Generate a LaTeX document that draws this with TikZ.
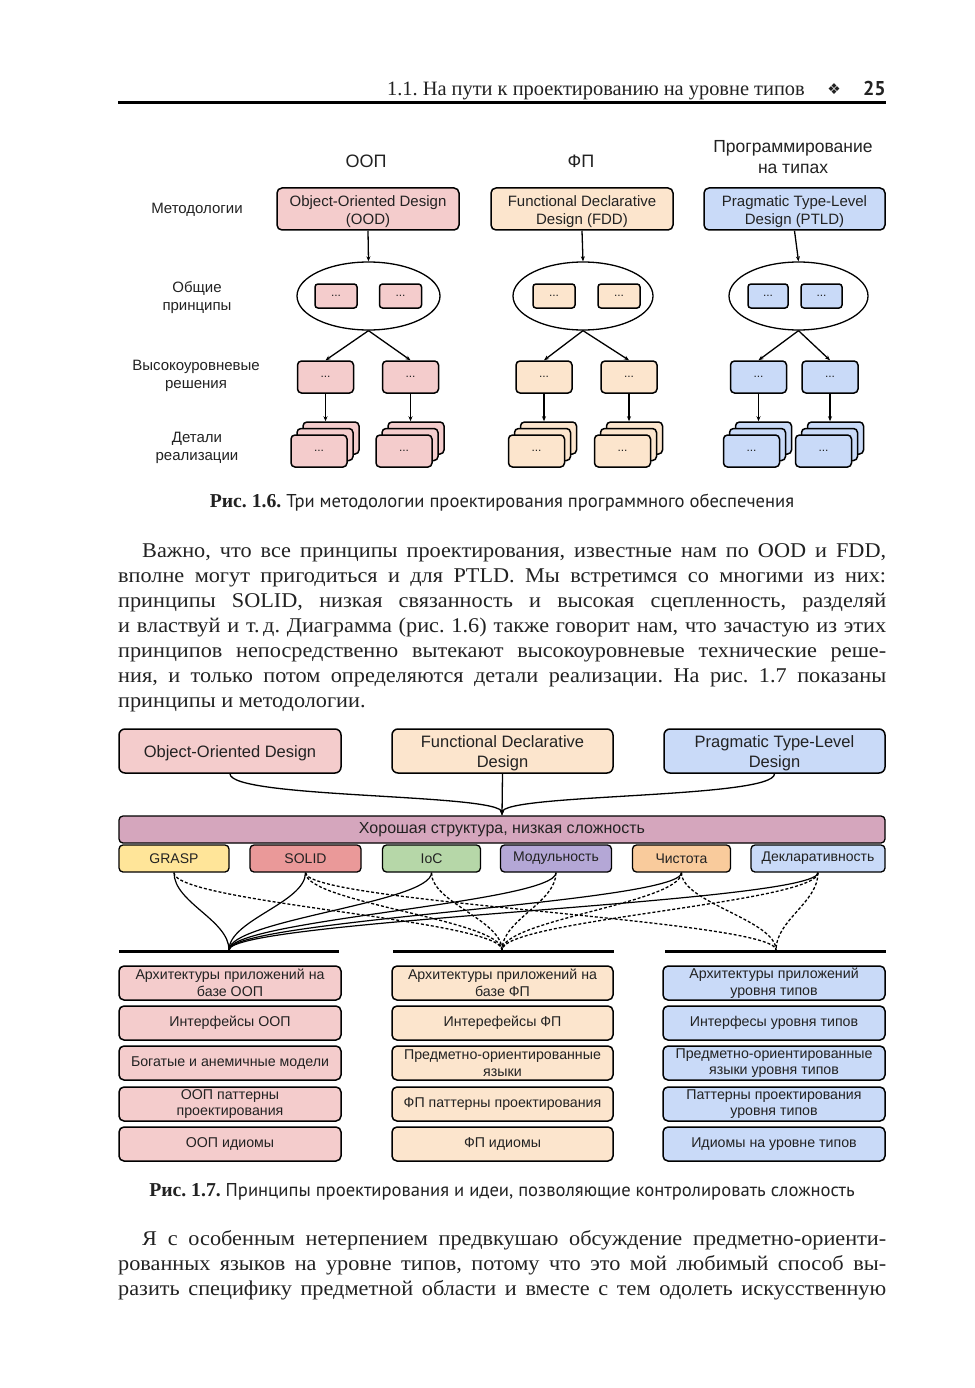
\documentclass[tikz,border=0pt]{standalone}
\usepackage{fontspec}
\setmainfont{Liberation Serif}[FakeStretch=1.06]
\newfontfamily\capserif{Liberation Serif}
\newfontfamily\dsans{Liberation Sans}
\newfontfamily\capsans{PT Sans}
\newfontfamily\symf{DejaVu Sans}
\usetikzlibrary{arrows.meta,shapes.geometric}
\definecolor{cpink}{HTML}{F4CCCC}
\definecolor{cpeach}{HTML}{FCE5CD}
\definecolor{cblue}{HTML}{C9DAF8}
\definecolor{cmauve}{HTML}{D5A6BD}
\definecolor{cyel}{HTML}{FFE599}
\definecolor{cred}{HTML}{EA9999}
\definecolor{cgreen}{HTML}{B6D7A8}
\definecolor{cpurp}{HTML}{B4A7D6}
\definecolor{corange}{HTML}{F9CB9C}
\definecolor{txt}{HTML}{222222}
\frenchspacing
\newcommand{\fsz}[2]{\fontsize{#1}{#2}\selectfont}
\newcommand{\jl}[2]{\makebox[#1][s]{#2}}
\newcommand{\dstack}[4]{%
  \node[sm, fill=#4] (#1c) at (#2+12,#3-13) {};
  \node[sm, fill=#4] (#1b) at (#2+6,#3-6.5) {};
  \node[sm, fill=#4] (#1) at (#2,#3) {...};
}
\begin{document}
\begin{tikzpicture}[x=1pt,y=-1pt,
  b6/.style={draw, line width=1.5pt, rounded corners=5pt, inner sep=1pt, align=center, text=txt, font=\dsans\fsz{15}{18}},
  sm/.style={draw, line width=1.5pt, rounded corners=4pt, minimum width=56pt, minimum height=32pt, inner sep=0pt, text=txt, font=\dsans\fsz{12}{12}},
  ins/.style={draw, line width=1.5pt, rounded corners=3pt, minimum width=42pt, minimum height=24pt, inner sep=0pt, text=txt, font=\dsans\fsz{12}{12}},
  el/.style={draw, ellipse, line width=1.3pt, inner sep=0pt, minimum height=68pt},
  ar/.style={line width=1.3pt, -{Stealth[length=5pt,width=4pt]}},
  lab/.style={font=\dsans\fsz{15}{18}, align=center, text=txt},
  ttl/.style={font=\dsans\fsz{18}{21}, align=center, text=txt},
  b7/.style={draw, line width=1.5pt, rounded corners=6pt, inner sep=1pt, align=center, text=txt, minimum height=44pt, font=\dsans\fsz{16.5}{20}},
  pr/.style={draw, line width=1.3pt, rounded corners=4pt, inner sep=0pt, minimum height=27pt, text=txt, font=\dsans\fsz{14}{16}},
  bb/.style={draw, line width=1.5pt, rounded corners=5pt, inner sep=0pt, align=center, minimum height=34pt, text=txt, font=\dsans\fsz{14.2}{16.5}},
  pl/.style={line width=1.2pt},
  pd/.style={line width=1.3pt, dash pattern=on 3pt off 2pt},
  body/.style={inner sep=0pt, anchor=base west, font=\fsz{21}{25}, text=txt},
  capt/.style={inner sep=0pt, anchor=base, text=txt}
]
\useasboundingbox[fill=white] (0,0) rectangle (974,1388);

% ---------- header ----------
\node[inner sep=0pt, anchor=base east, font=\capserif\fsz{20.4}{22}, text=txt] (hdr) at (805,96) {1.1. На пути к проектированию на уровне типов};
\node[inner sep=0pt, font=\symf\fsz{15}{15}, text=txt] (hsym) at (834,89) {❖};
\node[inner sep=0pt, anchor=base east, font=\capsans\bfseries\fsz{20}{22}, text=txt] (hpg) at (886,96) {25};
\draw[line width=3pt] (118,103) coordinate (r1) -- (886,103) coordinate (r2);

% ---------- figure 1.6 ----------
\node[ttl] (cO) at (366,161) {ООП};
\node[ttl] (cF) at (581,161) {ФП};
\node[ttl, font=\dsans\fsz{17.5}{21}] (cT) at (793,157.5) {Программирование\\на типах};

\node[lab] (l1) at (197,210) {Методологии};
\node[lab] (l2) at (197,298) {Общие\\принципы};
\node[lab] (l3) at (196,376) {Высокоуровневые\\решения};
\node[lab] (l4) at (197,447.5) {Детали\\реализации};

\node[b6, fill=cpink, minimum width=182pt, minimum height=42pt] (ood) at (368,209) {\rule{0pt}{17pt}Object-Oriented Design\\(OOD)};
\node[b6, fill=cpeach, minimum width=182pt, minimum height=42pt] (fdd) at (582,209) {\rule{0pt}{17pt}Functional Declarative\\Design (FDD)};
\node[b6, fill=cblue, minimum width=181pt, minimum height=42pt] (ptld) at (794.5,209) {\rule{0pt}{17pt}Pragmatic Type-Level\\Design (PTLD)};

\node[el, minimum width=143pt] (e1) at (368.5,296) {};
\node[el, minimum width=140pt] (e2) at (583,296) {};
\node[el, minimum width=139pt] (e3) at (798.5,296) {};

\node[ins, fill=cpink] (i11) at (336,296) {...};
\node[ins, fill=cpink] (i12) at (400.5,296) {...};
\node[ins, fill=cpeach] (i21) at (554,296) {...};
\node[ins, fill=cpeach] (i22) at (619,296) {...};
\node[ins, fill=cblue, minimum width=40pt] (i31) at (768,296) {...};
\node[ins, fill=cblue, minimum width=41pt] (i32) at (821.5,296) {...};

\draw[ar] (ood.south) -- (e1.north);
\draw[ar] (fdd.south) -- (e2.north);
\draw[ar] (ptld.south) -- (e3.north);

\node[sm, fill=cpink] (h11) at (325.5,377) {...};
\node[sm, fill=cpink] (h12) at (410.5,377) {...};
\node[sm, fill=cpeach] (h21) at (544,377) {...};
\node[sm, fill=cpeach] (h22) at (629,377) {...};
\node[sm, fill=cblue] (h31) at (758.5,377) {...};
\node[sm, fill=cblue] (h32) at (830,377) {...};

\draw[ar] (e1.south) -- (h11.north);
\draw[ar] (e1.south) -- (h12.north);
\draw[ar] (e2.south) -- (h21.north);
\draw[ar] (e2.south) -- (h22.north);
\draw[ar] (e3.south) -- (h31.north);
\draw[ar] (e3.south) -- (h32.north);

\dstack{d11}{319}{451}{cpink}
\dstack{d12}{404}{451}{cpink}
\dstack{d21}{536.5}{451}{cpeach}
\dstack{d22}{622.5}{451}{cpeach}
\dstack{d31}{751.5}{451}{cblue}
\dstack{d32}{823.5}{451}{cblue}

\draw[ar] (h11.south) -- (h11.south |- d11c.north);
\draw[ar] (h12.south) -- (h12.south |- d12c.north);
\draw[ar] (h21.south) -- (h21.south |- d21c.north);
\draw[ar] (h22.south) -- (h22.south |- d22c.north);
\draw[ar] (h31.south) -- (h31.south |- d31c.north);
\draw[ar] (h32.south) -- (h32.south |- d32c.north);

\node[capt] (cap6) at (502,507) {\capserif\fsz{19.7}{21}\bfseries Рис. 1.6. \capsans\mdseries\fsz{18.6}{21}Три методологии проектирования программного обеспечения};

% ---------- body paragraph 1 ----------
\node[body] (p1) at (142,557) {\jl{744pt}{Важно, что все принципы проектирования, известные нам по OOD и FDD,}};
\node[body] (p2) at (118,582) {\jl{768pt}{вполне могут пригодиться и для PTLD. Мы встретимся со многими из них:}};
\node[body] (p3) at (118,607) {\jl{768pt}{принципы SOLID, низкая связанность и высокая сцепленность, разделяй}};
\node[body] (p4) at (118,632) {\jl{768pt}{и властвуй и т.\,д. Диаграмма (рис. 1.6) также говорит нам, что зачастую из этих}};
\node[body] (p5) at (118,657) {\jl{768pt}{принципов непосредственно вытекают высокоуровневые технические реше-}};
\node[body] (p6) at (118,682) {\jl{768pt}{ния, и только потом определяются детали реализации. На рис. 1.7 показаны}};
\node[body] (p7) at (118,707) {принципы и методологии.};

% ---------- figure 1.7 ----------
\node[b7, fill=cpink, minimum width=222pt] (t1) at (230,751) {\rule{0pt}{16pt}Object-Oriented Design};
\node[b7, fill=cpeach, minimum width=221pt] (t2) at (502.5,751) {\rule{0pt}{16pt}Functional Declarative\\Design};
\node[b7, fill=cblue, minimum width=221pt] (t3) at (774.5,751) {\rule{0pt}{16pt}Pragmatic Type-Level\\Design};

\node[pr, fill=cmauve, minimum width=766pt, font=\dsans\fsz{16}{18}] (bar) at (502,829.5) {\raisebox{-1.5pt}{Хорошая структура, низкая сложность}};

\draw[ar] (t1.south) .. controls +(0,25) and +(0,-22) .. (bar.north);
\draw[ar] (t2.south) -- (bar.north);
\draw[ar] (t3.south) .. controls +(0,25) and +(0,-22) .. (bar.north);

\node[pr, fill=cyel, minimum width=110pt] (q1) at (174,858.5) {\raisebox{-1.5pt}{GRASP}};
\node[pr, fill=cred, minimum width=111pt] (q2) at (305.5,858.5) {\raisebox{-1.5pt}{SOLID}};
\node[pr, fill=cgreen, minimum width=98pt] (q3) at (431.5,858.5) {\raisebox{-1.5pt}{IoC}};
\node[pr, fill=cpurp, minimum width=111pt] (q4) at (556,858.5) {\raisebox{-1.5pt}{Модульность}};
\node[pr, fill=corange, minimum width=98pt] (q5) at (681.5,858.5) {\raisebox{-1.5pt}{Чистота}};
\node[pr, fill=cblue, minimum width=134pt] (q6) at (818,858.5) {\raisebox{-1.5pt}{Декларативность}};

\draw[line width=2.5pt] (119,951.5) coordinate (la) -- (339,951.5) coordinate (lb);
\draw[line width=2.5pt] (393,951.5) coordinate (lc) -- (614,951.5) coordinate (ld);
\draw[line width=2.5pt] (665,951.5) coordinate (le) -- (886,951.5) coordinate (lf);
\coordinate (O) at (229,950);
\coordinate (F) at (502,950);
\coordinate (T) at (776,950);

\foreach \q in {q1,q2,q3,q4,q5,q6}{
  \draw[pl] (\q.south) .. controls +(0,30) and +(0,-30) .. (O);
  \draw[pd] (\q.south) .. controls +(0,30) and +(0,-30) .. (F);
}
\foreach \q in {q2,q5,q6}{
  \draw[pd] (\q.south) .. controls +(0,30) and +(0,-30) .. (T);
}

\node[bb, fill=cpink, minimum width=222pt] (a1) at (230,983) {Архитектуры приложений на\\базе ООП};
\node[bb, fill=cpink, minimum width=222pt] (a2) at (230,1023) {Интерфейсы ООП};
\node[bb, fill=cpink, minimum width=222pt] (a3) at (230,1063) {Богатые и анемичные модели};
\node[bb, fill=cpink, minimum width=222pt] (a4) at (230,1104) {ООП паттерны\\проектирования};
\node[bb, fill=cpink, minimum width=222pt] (a5) at (230,1144) {ООП идиомы};

\node[bb, fill=cpeach, minimum width=221pt] (b1) at (502.5,983) {Архитектуры приложений на\\базе ФП};
\node[bb, fill=cpeach, minimum width=221pt] (b2) at (502.5,1023) {Интерефейсы ФП};
\node[bb, fill=cpeach, minimum width=221pt] (b3) at (502.5,1063) {Предметно-ориентированные\\языки};
\node[bb, fill=cpeach, minimum width=221pt] (b4) at (502.5,1104) {ФП паттерны проектирования};
\node[bb, fill=cpeach, minimum width=221pt] (b5) at (502.5,1144) {ФП идиомы};

\node[bb, fill=cblue, minimum width=222pt] (c1) at (774,983) {Архитектуры приложений\\уровня типов};
\node[bb, fill=cblue, minimum width=222pt] (c2) at (774,1023) {Интерфесы уровня типов};
\node[bb, fill=cblue, minimum width=222pt] (c3) at (774,1063) {Предметно-ориентированные\\языки уровня типов};
\node[bb, fill=cblue, minimum width=222pt] (c4) at (774,1104) {Паттерны проектирования\\уровня типов};
\node[bb, fill=cblue, minimum width=222pt] (c5) at (774,1144) {Идиомы на уровне типов};

\node[capt] (cap7) at (502,1196) {\capserif\fsz{19.7}{21}\bfseries Рис. 1.7. \capsans\mdseries\fsz{18.6}{21}Принципы проектирования и идеи, позволяющие контролировать сложность};

% ---------- body paragraph 2 ----------
\node[body] (s1) at (142,1245) {\jl{744pt}{Я с особенным нетерпением предвкушаю обсуждение предметно-ориенти-}};
\node[body] (s2) at (118,1270) {\jl{768pt}{рованных языков на уровне типов, потому что это мой любимый способ вы-}};
\node[body] (s3) at (118,1295) {\jl{768pt}{разить специфику предметной области и вместе с тем одолеть искусственную}};
\end{tikzpicture}
\end{document}
